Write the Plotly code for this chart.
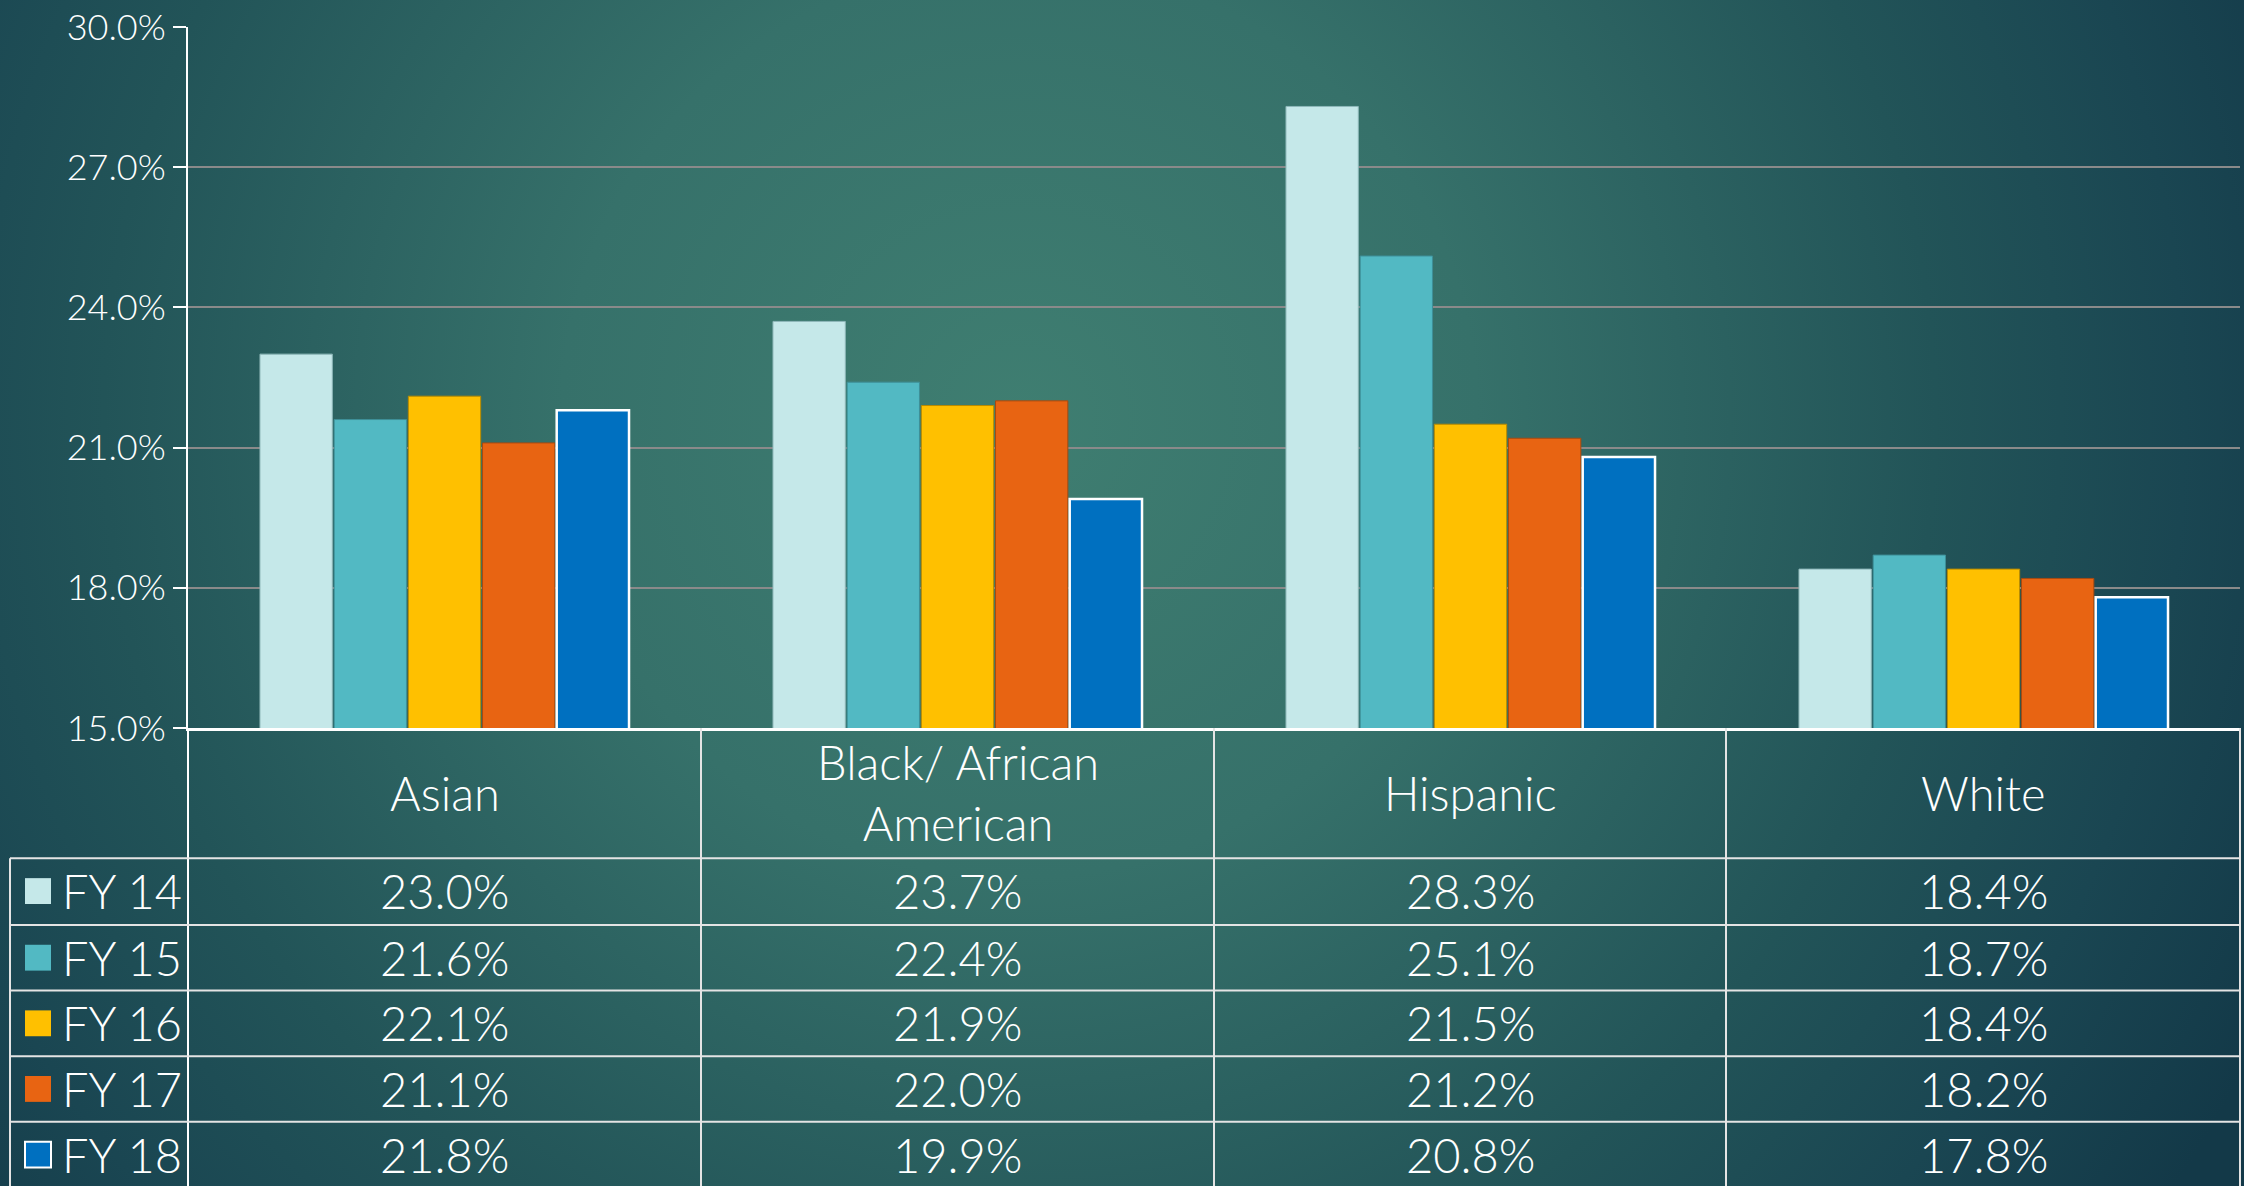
import base64
import plotly.graph_objects as go

# data
categories = ['Asian', 'Black/ African American', 'Hispanic', 'White']
header_labels = ['Asian', 'Black/ African<br>American', 'Hispanic', 'White']
years = ['FY 14', 'FY 15', 'FY 16', 'FY 17', 'FY 18']
fy14 = [23.0, 23.7, 28.3, 18.4]
fy15 = [21.6, 22.4, 25.1, 18.7]
fy16 = [22.1, 21.9, 21.5, 18.4]
fy17 = [21.1, 22.0, 21.2, 18.2]
fy18 = [21.8, 19.9, 20.8, 17.8]
series = [fy14, fy15, fy16, fy17, fy18]

colors = ['#C5E8E9', '#52B9C3', '#FFC000', '#E86412', '#0070C0']
outlines = ['#8fb8ba', '#3e8f98', '#b88a00', '#a84a10', '#ffffff']
outline_w = [1, 1, 1, 1, 2.5]

W, H = 2244, 1186
L, R, T, B = 188, 4, 23, 458
PW, PH = W - L - R, H - T - B
FONT = 'Lato'


def px_x(x):
    return (x - L) / PW


def px_y(y):
    return (H - B - y) / PH


# radial background as svg (a few px bigger than the page so no edge shows)
PAD = 6
svg = (
    f"<svg xmlns='http://www.w3.org/2000/svg' width='{W}' height='{H}' viewBox='0 0 {W} {H}' preserveAspectRatio='none'>"
    "<defs><radialGradient id='g' cx='1020' cy='420' r='1380' gradientUnits='userSpaceOnUse'>"
    "<stop offset='0' stop-color='#3f7e71'/>"
    "<stop offset='0.33' stop-color='#36716a'/>"
    "<stop offset='0.66' stop-color='#225458'/>"
    "<stop offset='0.84' stop-color='#1a4652'/>"
    "<stop offset='1' stop-color='#133948'/>"
    "</radialGradient></defs>"
    f"<rect width='{W}' height='{H}' fill='url(#g)'/></svg>"
)
bg_src = 'data:image/svg+xml;base64,' + base64.b64encode(svg.encode()).decode()

fig = go.Figure()
for name, vals, c, oc, ow in zip(years, series, colors, outlines, outline_w):
    fig.add_trace(go.Bar(name=name, x=categories, y=vals, marker=dict(color=c, line=dict(color=oc, width=ow))))

line_col = '#e4e4e4'
shapes = []
col_edges = [188, 701, 1214, 1726, 2240]
row_lines = [859, 926, 992, 1058, 1124]
bottom = H + 5

def seg(x0, y0, x1, y1, color=line_col, width=2):
    shapes.append(dict(type='line', xref='paper', yref='paper', x0=px_x(x0), y0=px_y(y0), x1=px_x(x1), y1=px_y(y1),
                       line=dict(color=color, width=width)))

for x in col_edges[1:]:
    seg(x, 728, x, bottom)
seg(188, 728, 188, bottom, color='#ffffff')
seg(10, 859, 10, bottom)
for y in row_lines:
    seg(10, y, 2240, y)

cell_font = dict(family=FONT, size=47, color='white', weight=300)
annotations = []
for i, lab in enumerate(header_labels):
    annotations.append(dict(x=categories[i], xref='x', y=px_y(793), yref='paper', text=lab, showarrow=False,
                            xanchor='center', yanchor='middle', font=cell_font, align='center'))

row_centers = [892, 959, 1025, 1091, 1157]
for r, (name, vals) in enumerate(zip(years, series)):
    yc = row_centers[r]
    for i, v in enumerate(vals):
        annotations.append(dict(x=categories[i], xref='x', y=px_y(yc), yref='paper', text=f'{v:.1f}%',
                                xanchor='center', yanchor='middle', showarrow=False, font=cell_font))
    annotations.append(dict(x=px_x(60), xref='paper', y=px_y(yc), yref='paper', text=name, xanchor='left',
                            yanchor='middle', showarrow=False, font=cell_font))
    shapes.append(dict(type='rect', xref='paper', yref='paper', x0=px_x(25), x1=px_x(51),
                       y0=px_y(yc - 13), y1=px_y(yc + 13), fillcolor=colors[r],
                       line=dict(color=outlines[r] if r == 4 else colors[r], width=2 if r == 4 else 0)))

fig.update_layout(
    width=W, height=H, autosize=False,
    margin=dict(l=L, r=R, t=T, b=B),
    paper_bgcolor='#1d4a52', plot_bgcolor='rgba(0,0,0,0)',
    barmode='group', bargap=0.277, bargroupgap=0.025,
    showlegend=False,
    font=dict(family=FONT, color='white'),
    images=[dict(source=bg_src, xref='paper', yref='paper', x=px_x(-PAD), y=px_y(-PAD),
                 sizex=(W + 2 * PAD) / PW, sizey=(H + 2 * PAD) / PH, sizing='stretch', layer='below',
                 xanchor='left', yanchor='top')],
    shapes=shapes,
    annotations=annotations,
)
fig.update_xaxes(showticklabels=False, showgrid=False, showline=True, linecolor='white', linewidth=3,
                 ticks='', zeroline=False)
fig.update_yaxes(range=[15, 30], dtick=3, tickformat='.1f', ticksuffix='%', showgrid=True, gridcolor='#8a8a8a',
                 gridwidth=2, showline=True, linecolor='white', linewidth=2, ticks='outside', ticklen=13,
                 tickwidth=2, tickcolor='white', tickfont=dict(family=FONT, size=36, color='white', weight=300),
                 ticklabeloverflow='allow', zeroline=False)

fig.write_html('out.html', config={'displayModeBar': False},
               post_script="document.body.style.margin='0';document.body.style.overflow='hidden';")
